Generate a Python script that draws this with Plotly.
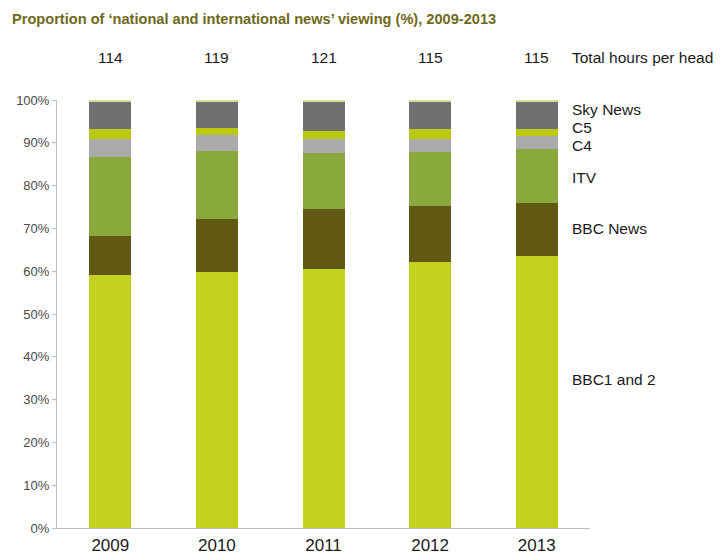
import plotly.graph_objects as go

years = ["2009", "2010", "2011", "2012", "2013"]
total_hours = [114, 119, 121, 115, 115]

bbc12 = [59.2, 59.7, 60.6, 62.1, 63.5]
bbc_news = [9.0, 12.5, 13.9, 13.1, 12.4]
itv = [18.6, 15.9, 13.1, 12.7, 12.7]
c4 = [4.2, 3.65, 3.2, 3.1, 3.0]
c5 = [2.3, 1.75, 2.0, 2.2, 1.7]
sky = [6.4, 6.2, 6.7, 6.4, 6.4]
other = [0.3, 0.3, 0.5, 0.5, 0.3]

series_names = ["BBC1 and 2", "BBC News", "ITV", "C4", "C5", "Sky News", "Other"]
series_values = [bbc12, bbc_news, itv, c4, c5, sky, other]
series_colors = ["#C3D121", "#625A14", "#89A93D", "#AAAAAA", "#BBC90E", "#707070", "#D6DE96"]

y_tickvals = [0, 10, 20, 30, 40, 50, 60, 70, 80, 90, 100]
y_ticktext = ["0%", "10%", "20%", "30%", "40%", "50%", "60%", "70%", "80%", "90%", "100%"]

# label positions (percent) for the right-hand series labels
label_names = ["Sky News", "C5", "C4", "ITV", "BBC News", "BBC1 and 2"]
label_y = [97.7, 93.5, 89.3, 82.0, 69.9, 34.6]

fig = go.Figure()
for name, vals, col in zip(series_names, series_values, series_colors):
    fig.add_trace(go.Bar(x=years, y=vals, name=name, marker_color=col,
                         marker_line_width=0, showlegend=False))

txt_font = dict(size=15.5, color="#1a1a1a")
annotations = []
for i, h in enumerate(total_hours):
    annotations.append(dict(x=i, y=1.1, xref="x", yref="paper", text=str(h),
                            xanchor="center", yanchor="middle",
                            showarrow=False, font=txt_font))
annotations.append(dict(x=1.0, y=1.1, xref="paper", yref="paper", xanchor="left",
                        yanchor="middle", xshift=-20, text="Total hours per head",
                        showarrow=False, font=txt_font))
for nm, yy in zip(label_names, label_y):
    annotations.append(dict(x=1.0, y=yy, xref="paper", yref="y", xanchor="left",
                            yanchor="middle", xshift=-20, text=nm, showarrow=False,
                            font=txt_font))
annotations.append(dict(x=0, y=1, xref="paper", yref="paper", xanchor="left", yanchor="middle",
                        xshift=-47, yshift=81, showarrow=False,
                        text="<b>Proportion of ‘national and international news’ viewing (%), 2009-2013</b>",
                        font=dict(size=14.6, color="#6E6A1A")))

fig.update_layout(
    barmode="stack",
    bargap=0.606,
    width=713, height=549,
    margin=dict(l=49, r=131, t=92, b=29, autoexpand=False),
    plot_bgcolor="white", paper_bgcolor="white",
    font=dict(family="Liberation Sans, Arial, sans-serif"),
    annotations=annotations,
)
fig.update_xaxes(type="category", showline=True, linecolor="#BFBFBF", linewidth=1,
                 ticks="outside", ticklen=2, tickcolor="rgba(0,0,0,0)",
                 tickfont=dict(size=17, color="#1a1a1a"), showgrid=False,
                 automargin=False)
fig.update_yaxes(range=[0, 100], tickmode="array", tickvals=y_tickvals, ticktext=y_ticktext,
                 showline=True, linecolor="#BFBFBF", linewidth=1,
                 ticks="outside", ticklen=4, tickcolor="#BFBFBF", showgrid=False,
                 zeroline=False, tickfont=dict(size=13, color="#4a4a4a"), automargin=False)

fig.write_html("out.html")
